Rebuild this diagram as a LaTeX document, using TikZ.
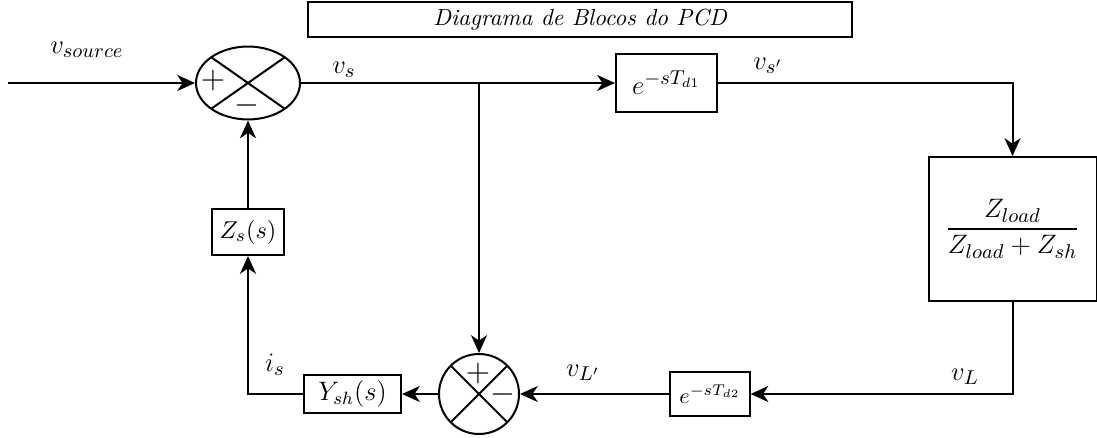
\documentclass[tikz,border=0pt]{standalone}
\usepackage{amsmath}
\usepackage{tikz}
\usetikzlibrary{arrows.meta,shapes.geometric,positioning}

\begin{document}
\begin{tikzpicture}[x=0.45pt, y=-0.45pt, line width=0.9pt,
  block/.style={rectangle, draw, inner sep=0pt},
  sum/.style={draw, inner sep=0pt, path picture={
    \draw[line width=0.9pt] (path picture bounding box.north west) -- (path picture bounding box.south east)
      (path picture bounding box.north east) -- (path picture bounding box.south west);}},
  sig/.style={font=\fontsize{15}{17}\selectfont, inner sep=0pt},
  lbl/.style={font=\fontsize{13}{15}\selectfont, inner sep=0pt},
  >={Stealth[length=8pt, width=7.2pt, inset=2.4pt]}]
 \useasboundingbox (0,0) rectangle (1097,438);
 \node [block, minimum width=244.8pt, minimum height=15.75pt, font=\fontsize{10.5}{12}\itshape] (title) at (580,19.5) {Diagrama de Blocos do PCD};
 % blocks
 \node [sum, ellipse, minimum width=46.8pt, minimum height=32.8pt] (sum1)   at (248,83)     {};
 \node [block, minimum width=45.5pt, minimum height=26pt, font=\fontsize{13}{15}\selectfont]   (delay1) at (666.5,83)   {$e^{-sT_{d1}}$};
 \node [block, minimum width=75.6pt, minimum height=64.8pt, font=\fontsize{12.7}{15}\selectfont] (load)   at (1012.5,229) {$\dfrac{Z_{load}}{Z_{load}+Z_{sh}}$};
 \node [block, minimum width=35.6pt, minimum height=19.8pt]                (delay2) at (710,394)    {$e^{-sT_{d2}}$};
 \node [sum, circle, minimum size=36pt]                                    (sum2)   at (479,394)    {};
 \node [block, minimum width=43.7pt, minimum height=17pt, font=\fontsize{11.5}{13}\selectfont]  (ysh) at (352.5,394) {$Y_{sh}(s)$};
 \node [block, minimum width=32.4pt, minimum height=20.7pt, font=\fontsize{11}{13}\selectfont]  (zs)  at (248,232)   {$Z_s(s)$};
 % signs
 \node [sig] (plus1)  at (213,81)  {$+$};
 \node [sig] (minus1) at (247,106) {$-$};
 \node [sig] (plus2)  at (478,373) {$+$};
 \node [sig] (minus2) at (503,394) {$-$};
 % labels
 \node [lbl] (lsource) at (87,50)   {$v_{source}$};
 \node [lbl] (lvs)     at (344,70)  {$v_s$};
 \node [lbl] (lvsp)    at (768,66)  {$v_{s'}$};
 \node [lbl] (lvl)     at (965,377) {$v_L$};
 \node [lbl] (lvlp)    at (583,373) {$v_{L'}$};
 \node [lbl] (lis)     at (275,365) {$i_s$};
 % connectors
 \coordinate (src) at (8,83);
 \coordinate (branch) at (479,83);
  \draw[->] (src) -- (sum1.west);
  \draw[->] (sum1.east) -- (delay1.west);
  \draw[->] (branch) -- (sum2.north);
  \draw[->] (delay1.east) -| (load.north);
  \draw[->] (load.south) |- (delay2.east);
  \draw[->] (delay2.west) -- (sum2.east);
  \draw[->] (sum2.west) -- (ysh.east);
  \draw[->] (ysh.west) -| (zs.south);
  \draw[->] (zs.north) -- (sum1.south);
\end{tikzpicture}
\end{document}
